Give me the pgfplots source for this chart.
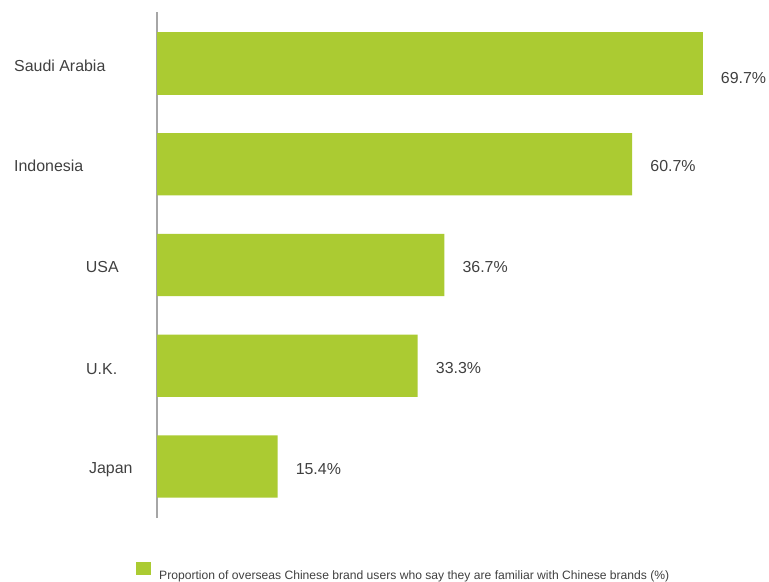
\documentclass[border=0pt]{standalone}
\usepackage{pgfplots}
\pgfplotsset{compat=1.18}
\usepackage{fontspec}
\setmainfont{Liberation Sans}
\definecolor{barc}{HTML}{ABCB32}
\definecolor{txt}{HTML}{404040}
\definecolor{axc}{HTML}{A6A6A6}
\begin{document}
\begin{tikzpicture}
\useasboundingbox (0,0) rectangle (769bp,582bp);
\begin{axis}[
  at={(157bp,64bp)}, anchor=south west,
  scale only axis, width=611bp, height=506bp,
  xmin=0, xmax=78.04, ymin=-0.511, ymax=4.511,
  xbar, bar width=0.62, bar shift=0pt,
  axis x line=none, axis y line=left,
  axis line style={-, draw=axc, line width=1.3bp},
  ytick=\empty, xtick=\empty,
  clip=false,
  point meta=x,
  /pgf/number format/assume math mode=true,
  nodes near coords={\pgfmathprintnumber[fixed,precision=1,fixed zerofill]{\pgfplotspointmeta}\%},
  nodes near coords style={anchor=base west, xshift=18bp, yshift=-7.5bp, font=\fontsize{16}{19}\selectfont, text=txt, inner sep=0pt},
  legend style={draw=none, fill=none, at={(axis description cs:-0.03437,-0.1050)}, anchor=west,
    font=\fontsize{12.17}{14}\selectfont, text=txt, inner sep=0pt, nodes={inner sep=0pt}},
  legend image code/.code={\fill[barc] (0bp,1bp) rectangle (15bp,14bp); \path (23bp,0bp);},
]
\addplot[fill=barc, draw=none] coordinates {(15.4,0) (33.3,1) (36.7,2) (60.7,3)};
\addlegendentry{Proportion of overseas Chinese brand users who say they are familiar with Chinese brands (\%)}
\addplot[fill=barc, draw=none, forget plot, nodes near coords style={yshift=-13bp}] coordinates {(69.7,4)};
\node[anchor=base west, font=\fontsize{16}{19}\selectfont, text=txt, inner sep=0pt] at (axis cs:-18.27,3.916) {Saudi Arabia};
\node[anchor=base west, font=\fontsize{16}{19}\selectfont, text=txt, inner sep=0pt] at (axis cs:-18.27,2.923) {Indonesia};
\node[anchor=base west, font=\fontsize{16}{19}\selectfont, text=txt, inner sep=0pt] at (axis cs:-9.11,1.921) {USA};
\node[anchor=base west, font=\fontsize{16}{19}\selectfont, text=txt, inner sep=0pt] at (axis cs:-9.07,0.918) {U.K.};
\node[anchor=base west, font=\fontsize{16}{19}\selectfont, text=txt, inner sep=0pt] at (axis cs:-8.69,-0.074) {Japan};
\end{axis}
\end{tikzpicture}
\end{document}
